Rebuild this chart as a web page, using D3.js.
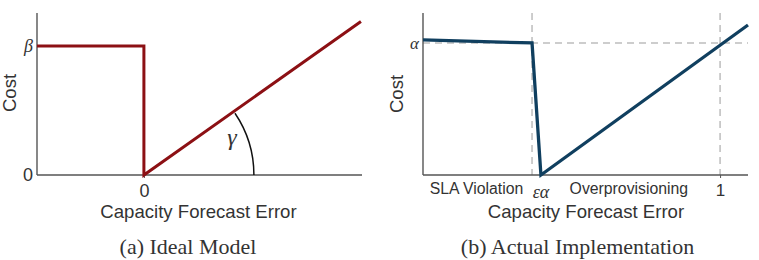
<!DOCTYPE html>
<html>
<head>
<meta charset="utf-8">
<script src="https://cdn.jsdelivr.net/npm/d3@7"></script>
<style>
  body { margin: 0; background: #fff; }
  svg { display: block; }
  .sans { font-family: "Liberation Sans", Arial, sans-serif; fill: #333; }
  .serif { font-family: "Liberation Serif", "Times New Roman", serif; fill: #333; }
</style>
</head>
<body>
<svg id="chart" width="759" height="260"></svg>
<script>
// (a) ideal model
const idealX = [-1, 0, 0, 2.03];
const idealY = [1, 1, 0, 1.19];
const idealXTicks = [0];
const idealXTickLabels = ["0"];
const idealYTicks = [0, 1];
const idealYTickLabels = ["0", "β"];

// (b) actual implementation
const actualX = [0, 0.367, 0.397, 1.094];
const actualY = [1.023, 1.0, 0, 1.136];
const actualXTicks = [1];
const actualXTickLabels = ["1"];
const actualYTicks = [1];
const actualYTickLabels = ["α"];
const actualGuidesX = [0.367, 1];
const actualGuidesY = [1];
const regionLabels = ["SLA Violation", "Overprovisioning"];
const regionLabelX = [0.18, 0.693];
const epsLabel = "εα";
const epsX = 0.397;

const svg = d3.select("#chart");
const axisColor = "#555";

// ---------- panel a ----------
const xa = d3.scaleLinear().domain([-1, 2.04]).range([37, 362]);
const ya = d3.scaleLinear().domain([0, 1.256]).range([175, 13]);

const ga = svg.append("g");

// axes lines
ga.append("line")
  .attr("x1", xa(-1)).attr("x2", xa(-1))
  .attr("y1", ya(0)).attr("y2", ya(1.256))
  .attr("stroke", axisColor).attr("stroke-width", 1.4);
ga.append("line")
  .attr("x1", xa(-1)).attr("x2", xa(2.04))
  .attr("y1", ya(0)).attr("y2", ya(0))
  .attr("stroke", axisColor).attr("stroke-width", 1.4);

// x tick
const axA = ga.append("g")
  .attr("transform", "translate(0," + ya(0) + ")")
  .call(d3.axisBottom(xa).tickValues(idealXTicks).tickSize(3).tickPadding(6)
    .tickFormat((d, i) => idealXTickLabels[i]));
axA.select(".domain").remove();
axA.selectAll("line").attr("stroke", axisColor);
axA.selectAll("text").attr("class", "sans").style("font-size", "18px").attr("fill", "#333");

// y ticks
const ayA = ga.append("g")
  .attr("transform", "translate(" + xa(-1) + ",0)")
  .call(d3.axisLeft(ya).tickValues(idealYTicks).tickSize(0).tickPadding(4)
    .tickFormat((d, i) => idealYTickLabels[i]));
ayA.select(".domain").remove();
ayA.selectAll("text")
  .attr("class", (d, i) => i === 0 ? "sans" : "serif")
  .style("font-size", "18px")
  .style("font-style", (d, i) => i === 0 ? "normal" : "italic")
  .attr("fill", (d, i) => i === 0 ? "#333" : "#555");

// the line
const lineA = d3.line().x(d => xa(d[0])).y(d => ya(d[1]));
ga.append("path")
  .datum(idealX.map((x, i) => [x, idealY[i]]))
  .attr("d", lineA)
  .attr("fill", "none")
  .attr("stroke", "#8c1014")
  .attr("stroke-width", 3)
  .attr("stroke-linejoin", "miter");

// gamma angle arc
const x0 = xa(idealX[2]), y0 = ya(idealY[2]);
const x1 = xa(idealX[3]), y1 = ya(idealY[3]);
const theta = Math.atan2(y0 - y1, x1 - x0);
const r = 110;
ga.append("path")
  .attr("transform", "translate(" + x0 + "," + y0 + ")")
  .attr("d", d3.arc()({innerRadius: r, outerRadius: r,
    startAngle: Math.PI / 2 - theta + 0.02, endAngle: Math.PI / 2}))
  .attr("fill", "none")
  .attr("stroke", "#111")
  .attr("stroke-width", 1.5);
ga.append("text")
  .attr("class", "serif")
  .attr("x", 232)
  .attr("y", 145)
  .attr("text-anchor", "middle")
  .style("font-size", "24px")
  .style("font-style", "italic")
  .text("γ");

ga.append("text").attr("class", "sans")
  .attr("x", 198.5).attr("y", 218)
  .attr("text-anchor", "middle").style("font-size", "18.6px")
  .text("Capacity Forecast Error");
ga.append("text").attr("class", "sans")
  .attr("transform", "translate(16,93) rotate(-90)")
  .attr("text-anchor", "middle").style("font-size", "18.6px")
  .text("Cost");
ga.append("text").attr("class", "serif")
  .attr("x", 188).attr("y", 253.5)
  .attr("text-anchor", "middle").style("font-size", "22px")
  .text("(a) Ideal Model");

// ---------- panel b ----------
const xb = d3.scaleLinear().domain([0, 1.094]).range([423, 748]);
const yb = d3.scaleLinear().domain([0, 1.227]).range([175, 13]);
const gb = svg.append("g");

// dashed guides
gb.selectAll(".vguide").data(actualGuidesX).enter().append("line")
  .attr("x1", d => xb(d)).attr("x2", d => xb(d))
  .attr("y1", yb(1.227)).attr("y2", yb(0))
  .attr("stroke", "#bdbdbd").attr("stroke-width", 1.5)
  .attr("stroke-dasharray", "7,5");
gb.selectAll(".hguide").data(actualGuidesY).enter().append("line")
  .attr("x1", xb(0)).attr("x2", xb(1.094))
  .attr("y1", d => yb(d)).attr("y2", d => yb(d))
  .attr("stroke", "#bdbdbd").attr("stroke-width", 1.5)
  .attr("stroke-dasharray", "7,5");

gb.append("line")
  .attr("x1", xb(0)).attr("x2", xb(0))
  .attr("y1", yb(0)).attr("y2", yb(1.227))
  .attr("stroke", axisColor).attr("stroke-width", 1.4);
gb.append("line")
  .attr("x1", xb(0)).attr("x2", xb(1.094))
  .attr("y1", yb(0)).attr("y2", yb(0))
  .attr("stroke", axisColor).attr("stroke-width", 1.4);

const axB = gb.append("g")
  .attr("transform", "translate(0," + yb(0) + ")")
  .call(d3.axisBottom(xb).tickValues(actualXTicks).tickSize(3).tickPadding(6)
    .tickFormat((d, i) => actualXTickLabels[i]));
axB.select(".domain").remove();
axB.selectAll("line").attr("stroke", axisColor);
axB.selectAll("text").attr("class", "sans").style("font-size", "17px").attr("fill", "#333");

const ayB = gb.append("g")
  .attr("transform", "translate(" + xb(0) + ",0)")
  .call(d3.axisLeft(yb).tickValues(actualYTicks).tickSize(0).tickPadding(4)
    .tickFormat((d, i) => actualYTickLabels[i]));
ayB.select(".domain").remove();
ayB.selectAll("text").attr("class", "serif")
  .style("font-size", "17px").style("font-style", "italic").attr("fill", "#555");

const lineB = d3.line().x(d => xb(d[0])).y(d => yb(d[1]));
gb.append("path")
  .datum(actualX.map((x, i) => [x, actualY[i]]))
  .attr("d", lineB)
  .attr("fill", "none")
  .attr("stroke", "#103f5f")
  .attr("stroke-width", 3.3)
  .attr("stroke-linejoin", "miter");

gb.selectAll(".region").data(regionLabels).enter().append("text")
  .attr("class", "sans")
  .attr("x", (d, i) => xb(regionLabelX[i]))
  .attr("y", 194)
  .attr("text-anchor", "middle").style("font-size", "15.8px")
  .text(d => d);
gb.append("text").attr("class", "serif")
  .attr("x", xb(epsX)).attr("y", 198)
  .attr("text-anchor", "middle").style("font-size", "18px").style("font-style", "italic")
  .text(epsLabel);

gb.append("text").attr("class", "sans")
  .attr("x", 586).attr("y", 218)
  .attr("text-anchor", "middle").style("font-size", "18.6px")
  .text("Capacity Forecast Error");
gb.append("text").attr("class", "sans")
  .attr("transform", "translate(403,94) rotate(-90)")
  .attr("text-anchor", "middle").style("font-size", "18.6px")
  .text("Cost");
gb.append("text").attr("class", "serif")
  .attr("x", 577.5).attr("y", 253.5)
  .attr("text-anchor", "middle").style("font-size", "22px")
  .text("(b) Actual Implementation");
</script>
</body>
</html>
